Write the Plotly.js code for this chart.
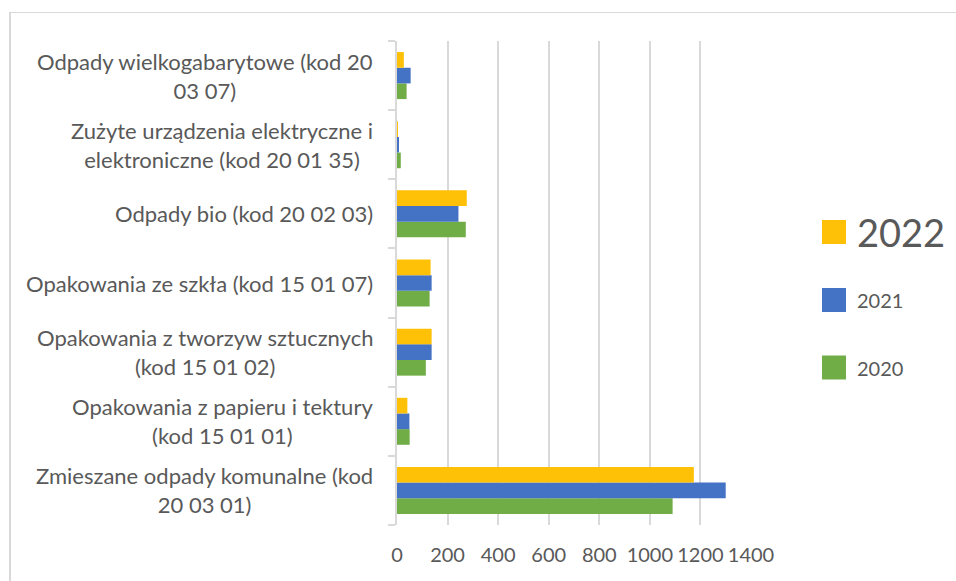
<!DOCTYPE html>
<html>
<head>
<meta charset="utf-8">
<script src="https://cdn.plot.ly/plotly-3.0.1.min.js"></script>
<style>
  html, body { margin: 0; padding: 0; background: #ffffff; }
  #wrap { position: relative; width: 956px; height: 581px; overflow: hidden; }
  #frame { position: absolute; left: 9px; top: 12px; width: 1000px; height: 1000px;
           border-left: 2px solid #d9d9d9; border-top: 1px solid #d9d9d9; box-sizing: border-box; }
  #chart { position: absolute; left: 0; top: 0; width: 956px; height: 581px; }
</style>
</head>
<body>
<div id="wrap">
  <div id="frame"></div>
  <div id="chart"></div>
</div>
<script>
// Categories, bottom to top as drawn
var categories = [
  "Zmieszane odpady komunalne (kod 20 03 01)",
  "Opakowania z papieru i tektury (kod 15 01 01)",
  "Opakowania z tworzyw sztucznych (kod 15 01 02)",
  "Opakowania ze szkła (kod 15 01 07)",
  "Odpady bio (kod 20 02 03)",
  "Zużyte urządzenia elektryczne i elektroniczne (kod 20 01 35)",
  "Odpady wielkogabarytowe (kod 20 03 07)"
];
var categoryLabels = [
  "Zmieszane odpady komunalne (kod<br>20 03 01)",
  "Opakowania z papieru i tektury<br>(kod 15 01 01)",
  "Opakowania z tworzyw sztucznych<br>(kod 15 01 02)",
  "Opakowania ze szkła (kod 15 01 07)",
  "Odpady bio (kod 20 02 03)",
  "Zużyte urządzenia elektryczne i<br>elektroniczne (kod 20 01 35)",
  "Odpady wielkogabarytowe (kod 20<br>03 07)"
];
var values2020 = [1090, 50, 114, 129, 272, 15, 38];
var values2021 = [1300, 49, 137, 137, 243, 7, 54];
var values2022 = [1174, 41, 137, 133, 276, 2, 27];
var seriesNames = ["2020", "2021", "2022"];
var xTickValues = [0, 200, 400, 600, 800, 1000, 1200, 1400];

var colors = { "2020": "#70ad47", "2021": "#4472c4", "2022": "#ffc107" };
var textColor = "#595959";
var FONT = "Lato, 'Open Sans', sans-serif";

// plot area geometry (pixels)
var W = 956, H = 581;
var M = { l: 397, r: W - 751, t: 41, b: H - 525 };
var PW = W - M.l - M.r, PH = H - M.t - M.b;
function px(x) { return (x - M.l) / PW; }
function py(y) { return (H - M.b - y) / PH; }

var seriesValues = { "2020": values2020, "2021": values2021, "2022": values2022 };
var traces = seriesNames.map(function (name) {
  return {
    type: "bar",
    orientation: "h",
    name: name,
    y: categories,
    x: seriesValues[name],
    marker: { color: colors[name], line: { width: 0 } },
    hoverinfo: "x+name"
  };
});

var annotations = categories.map(function (c, i) {
  return {
    xref: "paper", yref: "y", x: 0, y: c,
    xanchor: "right", yanchor: "middle", xshift: -22,
    align: "center", showarrow: false,
    text: categoryLabels[i],
    font: { family: FONT, size: 22, color: textColor }
  };
});

// custom legend (top: 2022, then 2021, 2020)
var legendOrder = ["2022", "2021", "2020"];
var legendCenters = [232, 300, 367.5];
var legendSizes = [38, 20, 20];
var shapes = [];
legendOrder.forEach(function (name, i) {
  var cy = legendCenters[i];
  shapes.push({
    type: "rect", xref: "paper", yref: "paper",
    x0: px(822), x1: px(846), y0: py(cy + 12), y1: py(cy - 12),
    fillcolor: colors[name], line: { width: 0 }
  });
  annotations.push({
    xref: "paper", yref: "paper", x: px(855), y: py(cy),
    xanchor: "left", yanchor: "middle", showarrow: false,
    text: name,
    font: { family: FONT, size: legendSizes[i], color: textColor }
  });
});

var layout = {
  width: W, height: H,
  margin: M,
  paper_bgcolor: "rgba(0,0,0,0)",
  plot_bgcolor: "rgba(0,0,0,0)",
  barmode: "group",
  bargap: 0.32,
  bargroupgap: 0,
  showlegend: false,
  font: { family: FONT, color: textColor },
  xaxis: {
    range: [0, 1400],
    tickvals: xTickValues,
    ticks: "",
    showgrid: true, gridcolor: "#d9d9d9", gridwidth: 2,
    zeroline: false, showline: false,
    tickfont: { family: FONT, size: 20, color: textColor },
    ticklabelstandoff: 16,
    fixedrange: true
  },
  yaxis: {
    type: "category",
    categoryorder: "array", categoryarray: categories,
    showticklabels: false,
    ticks: "outside", tickson: "boundaries", ticklen: 7, tickwidth: 2, tickcolor: "#d9d9d9",
    showline: true, linecolor: "#d9d9d9", linewidth: 2,
    showgrid: false, zeroline: false,
    fixedrange: true
  },
  annotations: annotations,
  shapes: shapes
};

Plotly.newPlot("chart", traces, layout, { displayModeBar: false });
</script>
</body>
</html>
